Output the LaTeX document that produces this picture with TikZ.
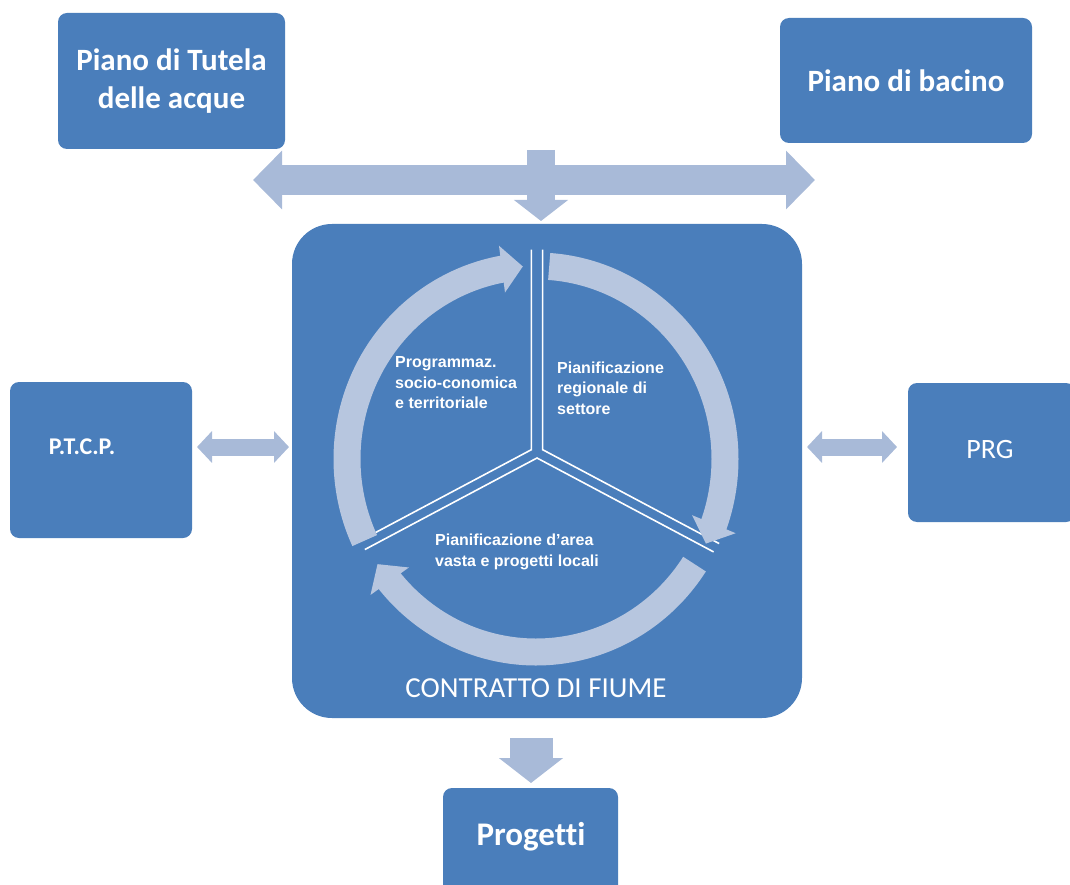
\documentclass[tikz,border=0pt]{standalone}
\usepackage{fontspec}
\setmainfont{Carlito}[Ligatures=NoCommon]
\newfontfamily\arialfont{Liberation Sans}
\usetikzlibrary{arrows.meta,bending,calc}
\definecolor{boxblue}{HTML}{4A7EBB}
\definecolor{arrowblue}{HTML}{A8BAD8}
\definecolor{ringblue}{HTML}{B7C6DF}
\begin{document}
\begin{tikzpicture}[x=1pt,y=-1pt,
  box/.style={fill=boxblue, rounded corners=9pt, inner sep=0pt, text=white},
  titlefont/.style={font=\bfseries\fontsize{31}{38}\selectfont, align=center},
  inner/.style={text=white, inner sep=0pt, align=left,
    font=\arialfont\bfseries\fontsize{16}{20.5}\selectfont},
  flow/.style={draw=arrowblue},
  ring/.style={draw=ringblue, line width=27pt},
  ringtip/.style={-{Triangle[width=46pt,length=21pt,flex]}},
  divider/.style={draw=white, line width=1.6pt, line join=miter}
]
\useasboundingbox (0,0) rectangle (1070,885);

% outer boxes
\node[box, titlefont, minimum width=227pt, minimum height=136pt] (tutela) at (171.5,81) {Piano di Tutela\\delle acque};
\node[box, titlefont, minimum width=252pt, minimum height=125pt] (bacino) at (906,80.5) {Piano di bacino};
\node[box, minimum width=182pt, minimum height=156pt] (ptcp) at (101,460) {};
\node[text=white, font=\bfseries\fontsize{24}{28}\selectfont, inner sep=0pt] (ptcptext) at (82,447) {P.T.C.P.};
\node[box, minimum width=167pt, minimum height=139pt] (prg) at (991.5,452.5) {};
\node[text=white, font=\fontsize{28}{32}\selectfont, inner sep=0pt] (prgtext) at (990,450) {PRG};
\node[box, minimum width=175pt, minimum height=112pt] (progetti) at (530.5,844) {};
\node[text=white, font=\bfseries\fontsize{33}{38}\selectfont, inner sep=0pt] (progettitext) at (531,837) {Progetti};

% central box
\node[box, rounded corners=40pt, minimum width=510pt, minimum height=494pt] (contratto) at (547,471) {};

% horizontal double arrow and down arrow
\coordinate (hl) at (253,180);
\coordinate (hr) at (815,180);
\draw[flow, line width=30pt, {Triangle[width=57pt,length=29pt]}-{Triangle[width=57pt,length=29pt]}] (hl) -- (hr);
\coordinate (dtop) at (541,150);
\coordinate (dtip) at (541,221);
\draw[flow, line width=28pt, -{Triangle[width=53pt,length=21pt]}] (dtop) -- (dtip);

% side double arrows
\coordinate (la) at (197,447);
\coordinate (lb) at (289,447);
\draw[flow, line width=17pt, {Triangle[width=31pt,length=15pt]}-{Triangle[width=31pt,length=15pt]}] (la) -- (lb);
\coordinate (ra) at (807,447);
\coordinate (rb) at (897,447);
\draw[flow, line width=17pt, {Triangle[width=31pt,length=15pt]}-{Triangle[width=31pt,length=15pt]}] (ra) -- (rb);

% down arrow to Progetti
\coordinate (pa) at (531,738);
\coordinate (pb) at (531,783);
\draw[flow, line width=43pt, -{Triangle[width=63pt,length=25pt]}] (pa) -- (pb);

% sector dividers (exploded pie look)
\coordinate (yc) at (537,453);
\coordinate (apexL) at ($(yc)+(-149:6.5)$);
\coordinate (apexR) at ($(yc)+(-31:6.5)$);
\coordinate (apexB) at ($(yc)+(90:5)$);
\draw[divider] ($(apexL)+(-90:200)$) -- (apexL) -- ($(apexL)+(-208:195)$);
\draw[divider] ($(apexR)+(-90:200)$) -- (apexR) -- ($(apexR)+(28:200)$);
\draw[divider] ($(apexB)+(-208:195)$) -- (apexB) -- ($(apexB)+(28:200)$);

% ring arrows (clockwise)
\coordinate (rc) at (536,459);
\draw[ring, ringtip] ($(rc)+(-205:189 and 193)$) arc[start angle=-205, end angle=-94, x radius=189, y radius=193];
\draw[ring, ringtip] ($(rc)+(-86:189 and 193)$) arc[start angle=-86, end angle=26, x radius=189, y radius=193];
\draw[ring, ringtip] ($(rc)+(33:189 and 193)$) arc[start angle=33, end angle=147, x radius=189, y radius=193];

% inner texts
\node[inner, anchor=west] (prog) at (395,383) {Programmaz.\\socio-conomica\\e territoriale};
\node[inner, anchor=west] (reg) at (557,388) {Pianificazione\\regionale di\\settore};
\node[inner, anchor=west] (area) at (435,552) {Pianificazione d’area\\vasta e progetti locali};
\node[text=white, inner sep=0pt, font=\fontsize{29}{34}\selectfont] (cdf) at (536,688) {CONTRATTO DI FIUME};
\end{tikzpicture}
\end{document}
